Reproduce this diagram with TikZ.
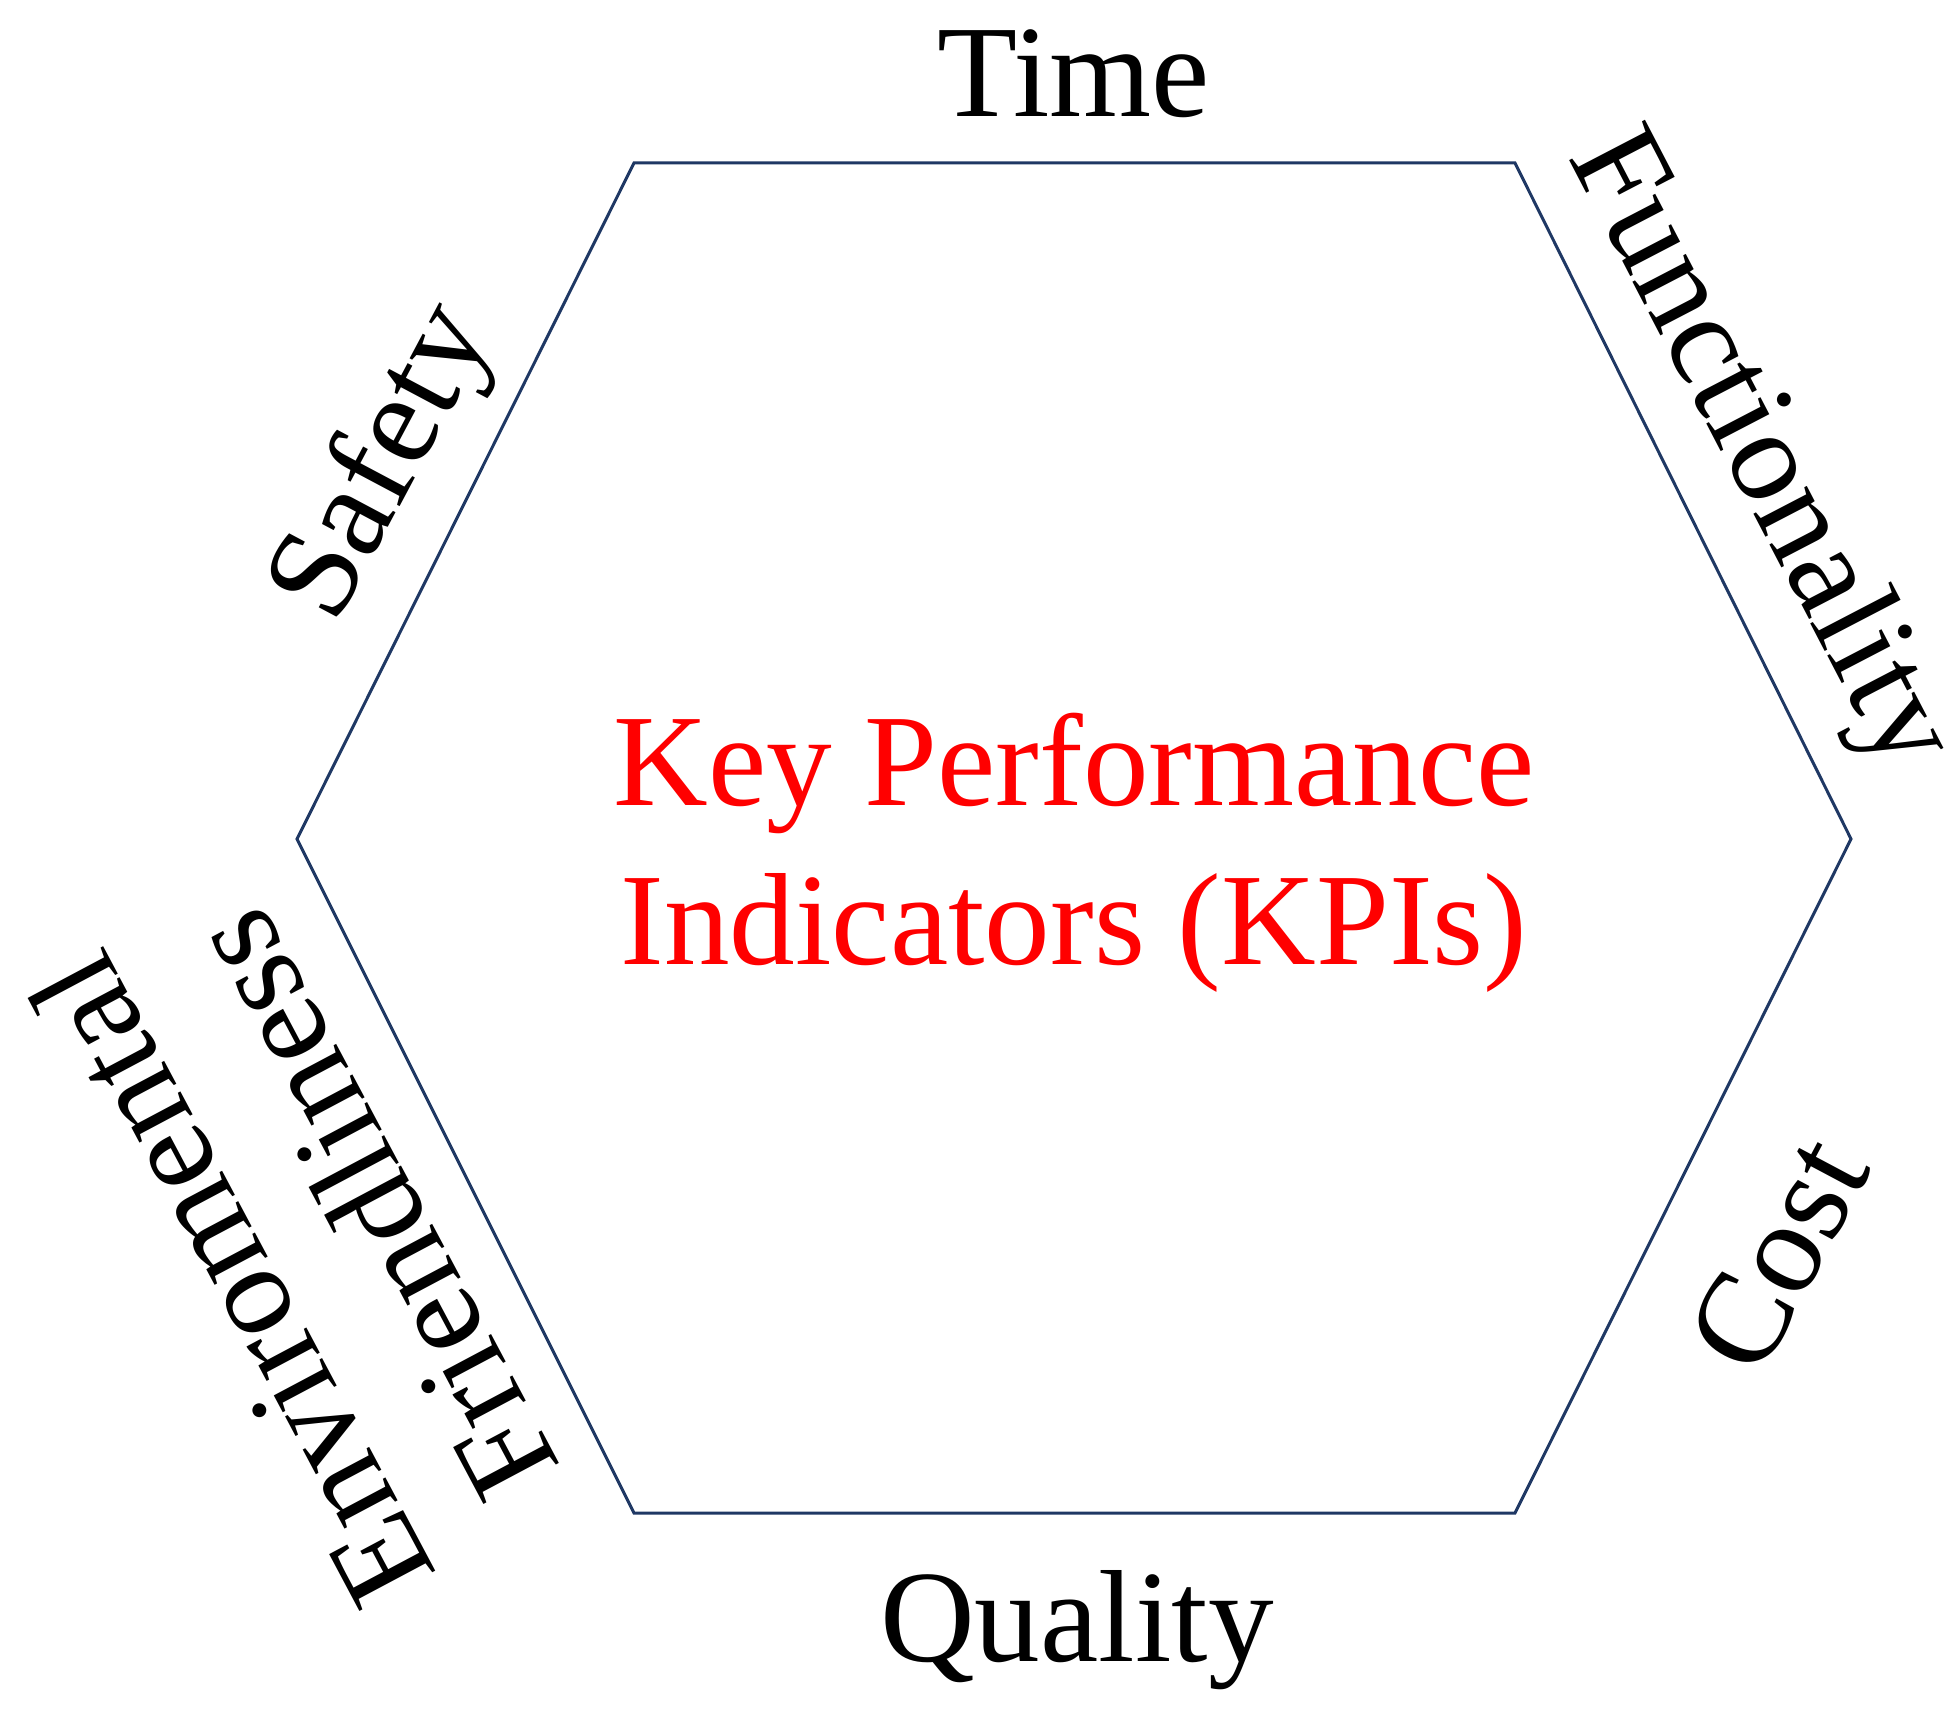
\documentclass[tikz,border=0pt]{standalone}
\usepackage{fontspec}
\setmainfont{Liberation Serif}
\definecolor{hexblue}{RGB}{31,56,100}
\begin{document}
\begin{tikzpicture}[x=0.01cm,y=-0.01cm,
  lab/.style={inner sep=0pt, font=\fontsize{37.3}{45.5}\selectfont, text=black},
  kpi/.style={lab, text=red},
  hexline/.style={draw=hexblue, line width=0.85pt, line join=miter}]
\useasboundingbox (0,0) rectangle (1958,1713);
\coordinate (tl) at (634,163);
\coordinate (tr) at (1515,163);
\coordinate (r)  at (1851,839);
\coordinate (br) at (1515,1513);
\coordinate (bl) at (634,1513);
\coordinate (l)  at (297,839);
\draw[hexline] (tl) -- (tr) -- (r) -- (br) -- (bl) -- (l) -- cycle;
\node[lab, anchor=base] (time) at (1074,117) {Time};
\node[lab, anchor=base] (quality) at (1077,1661) {Quality};
\node[lab, rotate=62] (safety) at (386,464) {Safety};
\node[lab, rotate=-62.5] (func) at (1757,452) {Functionality};
\node[lab, rotate=62] (cost) at (1778,1254) {Cost};
\node[lab, rotate=118, align=center] (env) at (301,1243) {Enviromental\\Friendliness};
\node[kpi, anchor=base] (kpia) at (1074,806) {Key Performance};
\node[kpi, anchor=base] (kpib) at (1074,964) {Indicators (KPIs)};
\end{tikzpicture}
\end{document}
